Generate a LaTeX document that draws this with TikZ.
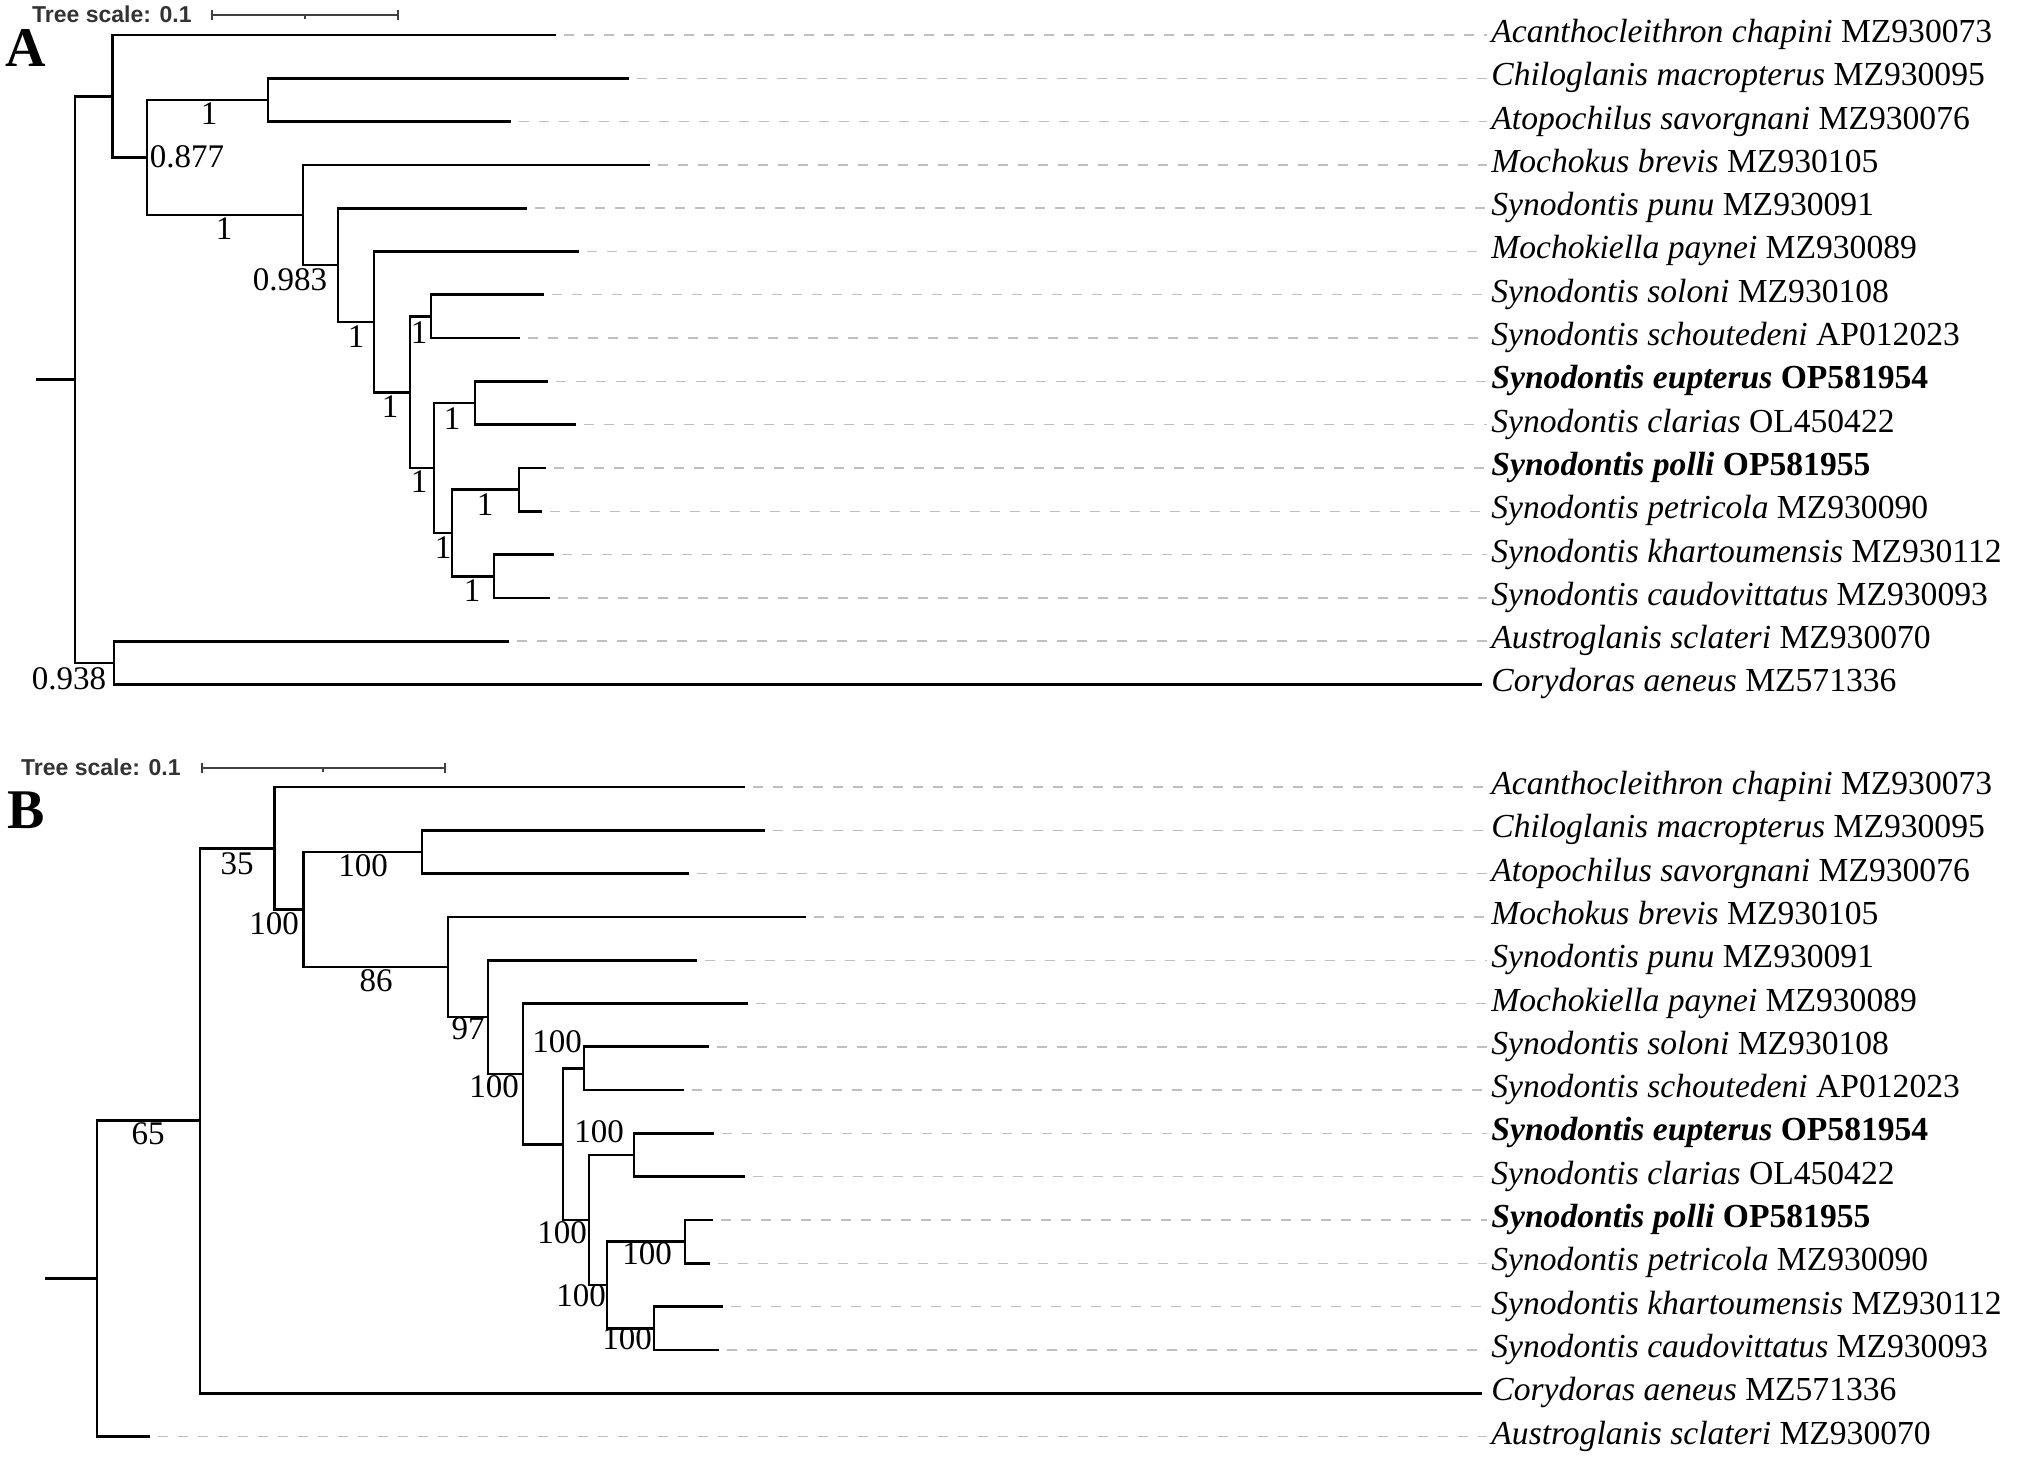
\documentclass[tikz,border=0pt]{standalone}
\usepackage{fontspec}
\setmainfont{Liberation Serif}
\setsansfont{Liberation Sans}
\usetikzlibrary{positioning}

\newcommand{\taxon}[2]{\textit{#1} #2}
\newcommand{\newtaxon}[2]{\textbf{\textit{#1} #2}}

\begin{document}
\begin{tikzpicture}[
  x=0.5pt, y=-0.5pt,
  branch/.style={draw, line width=1.35pt, line join=miter},
  leader/.style={draw=black!25, line width=0.7pt, dash pattern=on 5pt off 5pt, shorten <=4pt, shorten >=2pt},
  taxon/.style={anchor=west, inner sep=0pt, text height=0.75em, text depth=0pt, font=\fontsize{16.8}{20}\selectfont},
  support/.style={inner sep=0pt, text height=0.68em, text depth=0pt, font=\fontsize{16.5}{19}\selectfont},
  scalebar/.style={draw=black!75, line width=1pt},
  scaletext/.style={anchor=east, inner sep=0pt, text height=0.72em, text depth=0pt, text=black!80, font=\sffamily\bfseries\fontsize{11.5}{13}\selectfont},
  panel/.style={inner sep=0pt, text height=0.68em, text depth=0pt, font=\bfseries\fontsize{28}{30}\selectfont}
]
\useasboundingbox (0,0) rectangle (2018,1459);

% panel A
\node[panel] (Aletter) at (26,60) {A};
\node[scaletext] (Ascale) at (192,15) {Tree scale: 0.1};
\coordinate (AbarL) at (212,15);
\coordinate (AbarM) at (305,15);
\coordinate (AbarR) at (398,15);
\draw[scalebar] (AbarL) -- (AbarR);
\draw[scalebar] ([yshift=2.5pt]AbarL) -- ([yshift=-2.5pt]AbarL);
\draw[scalebar] ([yshift=2.5pt]AbarR) -- ([yshift=-2.5pt]AbarR);
\draw[scalebar] (AbarM) -- ++(0,4);

\foreach \i/\tip/\lbl in {
  1/556/{\taxon{Acanthocleithron chapini}{MZ930073}},
  2/629/{\taxon{Chiloglanis macropterus}{MZ930095}},
  3/511/{\taxon{Atopochilus savorgnani}{MZ930076}},
  4/650/{\taxon{Mochokus brevis}{MZ930105}},
  5/527/{\taxon{Synodontis punu}{MZ930091}},
  6/579/{\taxon{Mochokiella paynei}{MZ930089}},
  7/544/{\taxon{Synodontis soloni}{MZ930108}},
  8/520/{\taxon{Synodontis schoutedeni}{AP012023}},
  9/548/{\newtaxon{Synodontis eupterus}{OP581954}},
  10/576/{\taxon{Synodontis clarias}{OL450422}},
  11/546/{\newtaxon{Synodontis polli}{OP581955}},
  12/542/{\taxon{Synodontis petricola}{MZ930090}},
  13/554/{\taxon{Synodontis khartoumensis}{MZ930112}},
  14/550/{\taxon{Synodontis caudovittatus}{MZ930093}},
  15/509/{\taxon{Austroglanis sclateri}{MZ930070}}}{
  \coordinate (Al\i) at (\tip,{35+43.3*(\i-1)});
  \node[taxon] (At\i) at (1491,{35+43.3*(\i-1)}) {\lbl};
  \draw[leader] (Al\i) -- (At\i.west);
}
\coordinate (Al16) at (1482,684.5);
\node[taxon] (At16) at (1491,684.5) {\taxon{Corydoras aeneus}{MZ571336}};

\coordinate (Astub) at (36,379.6);
\coordinate (Aroot) at (75,379.6);
\coordinate (AnAc) at (112.5,96.3);
\coordinate (An0877) at (147,157.5);
\coordinate (AnCA) at (268,100);
\coordinate (AnMoch) at (303,215);
\coordinate (An0983) at (338,265);
\coordinate (AnMk) at (374,321.9);
\coordinate (AnRest) at (410,392.2);
\coordinate (AnSS) at (431,316.5);
\coordinate (AnECPK) at (434,468);
\coordinate (AnEC) at (475,403);
\coordinate (AnPK) at (452,533);
\coordinate (AnPP) at (519,489.7);
\coordinate (AnKC) at (494,576.3);
\coordinate (AnOut) at (114,662.9);

\draw[branch] (Astub) -- (Aroot);
\foreach \p/\c in {Aroot/AnAc, Aroot/AnOut, AnAc/Al1, AnAc/An0877,
  An0877/AnCA, An0877/AnMoch, AnCA/Al2, AnCA/Al3, AnMoch/Al4, AnMoch/An0983,
  An0983/Al5, An0983/AnMk, AnMk/Al6, AnMk/AnRest, AnRest/AnSS, AnRest/AnECPK,
  AnSS/Al7, AnSS/Al8, AnECPK/AnEC, AnECPK/AnPK, AnEC/Al9, AnEC/Al10,
  AnPK/AnPP, AnPK/AnKC, AnPP/Al11, AnPP/Al12, AnKC/Al13, AnKC/Al14,
  AnOut/Al15, AnOut/Al16}
  \draw[branch] (\p) |- (\c);

\node[support] (AsCA) at (209,118) {1};
\node[support] (As0877) at (187,161) {0.877};
\node[support] (AsMoch) at (224,233) {1};
\node[support] (As0983) at (290,284) {0.983};
\node[support] (AsMk) at (356,341) {1};
\node[support] (AsSS) at (419,337) {1};
\node[support] (AsRest) at (390,411) {1};
\node[support] (AsEC) at (452,423) {1};
\node[support] (AsECPK) at (419,486) {1};
\node[support] (AsPP) at (485,509) {1};
\node[support] (AsPK) at (443,552) {1};
\node[support] (AsKC) at (472,595) {1};
\node[support] (AsOut) at (69,683) {0.938};

% panel B
\node[panel] (Bletter) at (26,822) {B};
\node[scaletext] (Bscale) at (181,768) {Tree scale: 0.1};
\coordinate (BbarL) at (202,768);
\coordinate (BbarM) at (323,768);
\coordinate (BbarR) at (445,768);
\draw[scalebar] (BbarL) -- (BbarR);
\draw[scalebar] ([yshift=2.5pt]BbarL) -- ([yshift=-2.5pt]BbarL);
\draw[scalebar] ([yshift=2.5pt]BbarR) -- ([yshift=-2.5pt]BbarR);
\draw[scalebar] (BbarM) -- ++(0,4);

\foreach \i/\tip/\lbl in {
  1/745/{\taxon{Acanthocleithron chapini}{MZ930073}},
  2/765/{\taxon{Chiloglanis macropterus}{MZ930095}},
  3/689/{\taxon{Atopochilus savorgnani}{MZ930076}},
  4/806/{\taxon{Mochokus brevis}{MZ930105}},
  5/697/{\taxon{Synodontis punu}{MZ930091}},
  6/748/{\taxon{Mochokiella paynei}{MZ930089}},
  7/709/{\taxon{Synodontis soloni}{MZ930108}},
  8/684/{\taxon{Synodontis schoutedeni}{AP012023}},
  9/714/{\newtaxon{Synodontis eupterus}{OP581954}},
  10/745/{\taxon{Synodontis clarias}{OL450422}},
  11/713/{\newtaxon{Synodontis polli}{OP581955}},
  12/710/{\taxon{Synodontis petricola}{MZ930090}},
  13/723/{\taxon{Synodontis khartoumensis}{MZ930112}},
  14/719/{\taxon{Synodontis caudovittatus}{MZ930093}},
  16/149.5/{\taxon{Austroglanis sclateri}{MZ930070}}}{
  \coordinate (Bl\i) at (\tip,{787+43.3*(\i-1)});
  \node[taxon] (Bt\i) at (1491,{787+43.3*(\i-1)}) {\lbl};
  \draw[leader] (Bl\i) -- (Bt\i.west);
}
\coordinate (Bl15) at (1482,1393.2);
\node[taxon] (Bt15) at (1491,1393.2) {\taxon{Corydoras aeneus}{MZ571336}};

\coordinate (Bstub) at (45,1278.6);
\coordinate (Broot) at (97,1278.6);
\coordinate (Bn65) at (200,1120.7);
\coordinate (Bn35) at (274.5,848.3);
\coordinate (Bn100) at (303.5,909.5);
\coordinate (BnCA) at (422,852);
\coordinate (Bn86) at (448,967);
\coordinate (Bn97) at (488,1017);
\coordinate (BnMk) at (523,1073.9);
\coordinate (BnRest) at (563,1144.3);
\coordinate (BnSS) at (584,1068.5);
\coordinate (BnECPK) at (589,1220);
\coordinate (BnEC) at (634,1155);
\coordinate (BnPK) at (607,1285);
\coordinate (BnPP) at (685,1241.7);
\coordinate (BnKC) at (654,1328.3);

\draw[branch] (Bstub) -- (Broot);
\foreach \p/\c in {Broot/Bn65, Broot/Bl16, Bn65/Bn35, Bn65/Bl15,
  Bn35/Bl1, Bn35/Bn100, Bn100/BnCA, Bn100/Bn86, BnCA/Bl2, BnCA/Bl3,
  Bn86/Bl4, Bn86/Bn97, Bn97/Bl5, Bn97/BnMk, BnMk/Bl6, BnMk/BnRest,
  BnRest/BnSS, BnRest/BnECPK, BnSS/Bl7, BnSS/Bl8, BnECPK/BnEC, BnECPK/BnPK,
  BnEC/Bl9, BnEC/Bl10, BnPK/BnPP, BnPK/BnKC, BnPP/Bl11, BnPP/Bl12,
  BnKC/Bl13, BnKC/Bl14}
  \draw[branch] (\p) |- (\c);

\node[support] (Bs35) at (237,868) {35};
\node[support] (BsCA) at (363,870) {100};
\node[support] (Bs100) at (274,928) {100};
\node[support] (Bs86) at (376,985) {86};
\node[support] (Bs97) at (468,1033) {97};
\node[support] (BsSS) at (557,1046) {100};
\node[support] (BsRest) at (494,1091) {100};
\node[support] (BsEC) at (599,1136) {100};
\node[support] (BsECPK) at (562,1237) {100};
\node[support] (BsPP) at (647,1258) {100};
\node[support] (BsPK) at (581,1300) {100};
\node[support] (BsKC) at (627,1343) {100};
\node[support] (Bs65) at (148,1138) {65};
\end{tikzpicture}
\end{document}
